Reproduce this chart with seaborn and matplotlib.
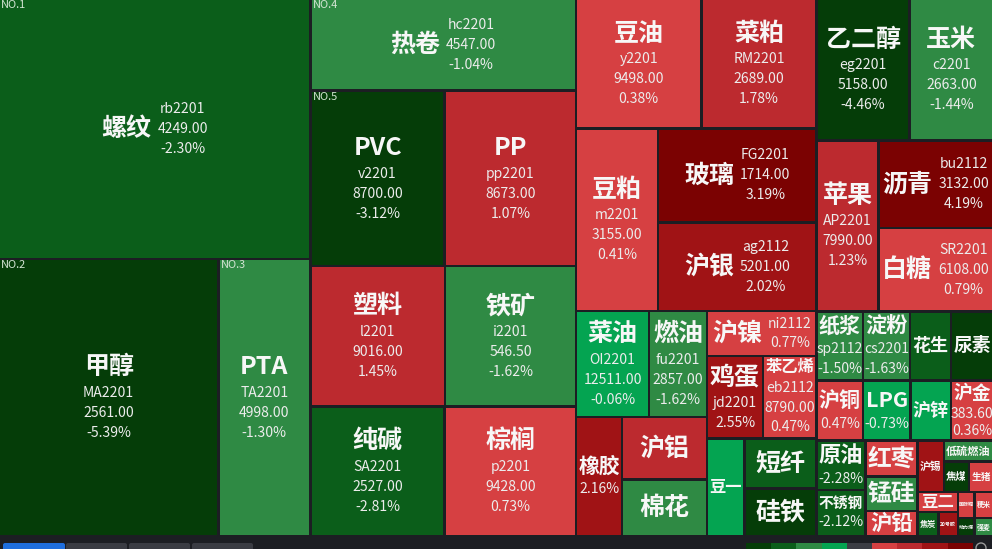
import matplotlib
matplotlib.use('Agg')
import matplotlib.pyplot as plt
from matplotlib.patches import Rectangle, FancyBboxPatch, Circle
import numpy as np
import seaborn as sns

# futures contracts
names = ['螺纹', '甲醇', 'PTA', '热卷', 'PVC', 'PP', '塑料', '铁矿', '纯碱', '棕榈',
         '豆油', '菜粕', '豆粕', '玻璃', '沪银', '菜油', '燃油', '橡胶', '沪铝', '棉花',
         '沪镍', '鸡蛋', '苯乙烯', '豆一', '短纤', '硅铁', '乙二醇', '玉米', '苹果', '沥青',
         '白糖', '纸浆', '淀粉', '花生', '尿素', '沪铜', 'LPG', '沪锌', '沪金', '原油',
         '不锈钢', '红枣', '锰硅', '沪铅', '沪锡', '低硫燃油', '焦煤', '生猪', '豆二', '焦炭',
         '20号胶', '国际铜', '粳米', '动力煤', '强麦']
codes = ['rb2201', 'MA2201', 'TA2201', 'hc2201', 'v2201', 'pp2201', 'l2201', 'i2201', 'SA2201', 'p2201',
         'y2201', 'RM2201', 'm2201', 'FG2201', 'ag2112', 'OI2201', 'fu2201', '', '', '',
         'ni2112', 'jd2201', 'eb2112', '', '', '', 'eg2201', 'c2201', 'AP2201', 'bu2112',
         'SR2201', 'sp2112', 'cs2201', '', '', '', '', '', '', '',
         '', '', '', '', '', '', '', '', '', '',
         '', '', '', '', '']
prices = ['4249.00', '2561.00', '4998.00', '4547.00', '8700.00', '8673.00', '9016.00', '546.50', '2527.00', '9428.00',
          '9498.00', '2689.00', '3155.00', '1714.00', '5201.00', '12511.00', '2857.00', '', '', '',
          '', '', '8790.00', '', '', '', '5158.00', '2663.00', '7990.00', '3132.00',
          '6108.00', '', '', '', '', '', '', '', '383.60', '',
          '', '', '', '', '', '', '', '', '', '',
          '', '', '', '', '']
changes = [-2.30, -5.39, -1.30, -1.04, -3.12, 1.07, 1.45, -1.62, -2.81, 0.73,
           0.38, 1.78, 0.41, 3.19, 2.02, -0.06, -1.62, 2.16, 1.30, -1.20,
           0.77, 2.55, 0.47, -0.50, -2.40, -3.50, -4.46, -1.44, 1.23, 4.19,
           0.79, -1.50, -1.63, -2.20, -3.30, 0.47, -0.73, -0.40, 0.36, -2.28,
           -2.12, 0.60, -1.80, 0.30, 2.30, -1.30, -4.00, 0.90, 0.50, -2.50,
           2.10, 0.60, 0.80, -3.60, -1.40]
# relative turnover (tile size)
weights = [805, 604, 254, 242, 234, 229, 188, 183, 173, 169,
           161, 148, 149, 149, 139, 77, 61, 54.5, 53, 47.6,
           49, 46, 44, 36, 36, 34, 131, 117, 105, 100,
           95, 32, 32.4, 28, 29, 27.9, 28.2, 24.3, 25.2, 24,
           22.5, 18.5, 18, 13, 13.3, 10.3, 7.5, 7.2, 8, 5,
           4.6, 4.3, 4.8, 3, 3.3]
# which detail lines fit: c = code, v = price, p = change
shown = ['cvp'] * 17 + ['p', '', '',
         'cp', 'cp', 'cvp', '', '', '', 'cvp', 'cvp', 'cvp', 'cvp',
         'cvp', 'cp', 'cp', '', '', 'p', 'p', '', 'vp', 'p',
         'p'] + [''] * 14

# nesting of the tiles
tree = [
    ['螺纹', ['甲醇', 'PTA']],
    ['热卷', ['PVC', 'PP'], ['塑料', '铁矿'], ['纯碱', '棕榈']],
    [['豆油', '菜粕'], ['豆粕', ['玻璃', '沪银']],
     [[['菜油', '燃油'], ['橡胶', ['沪铝', '棉花']]],
      ['沪镍', ['鸡蛋', '苯乙烯'], ['豆一', ['短纤', '硅铁']]]]],
    [['乙二醇', '玉米'], ['苹果', ['沥青', '白糖']],
     [['纸浆', '淀粉', '花生', '尿素'], ['沪铜', 'LPG', '沪锌', '沪金'],
      [['原油', '不锈钢'], ['红枣', '锰硅', '沪铅'],
       [['沪锡', ['低硫燃油', ['焦煤', '生猪']]],
        [['豆二', ['焦炭', '20号胶']], [['国际铜', '粳米'], ['动力煤', '强麦']]]]]]],
]

BG = '#1c1e23'
PT = 0.72  # px -> pt at 100 dpi
palette = sns.color_palette(['#053d08', '#0b5e1a', '#2f8a44', '#04a451', '#3b3d44',
                             '#d64042', '#bc2a2f', '#a01315', '#7b0202'])
idx = {n: i for i, n in enumerate(names)}
pct_labels = [f'{c:.2f}%' for c in changes]


def cell_color(c):
    if c == 0:
        return palette[4]
    if c < 0:
        return palette[3 - min(3, int(np.floor(-c)))]
    return palette[5 + min(3, int(np.floor(c)))]


def node_sum(node):
    if isinstance(node, str):
        return weights[idx[node]]
    return sum(node_sum(c) for c in node)


def split(node, x, y, w, h, rects):
    if isinstance(node, str):
        rects[node] = (x, y, w, h)
        return
    s = node_sum(node)
    for c in node:
        f = node_sum(c) / s
        if w >= h:
            split(c, x, y, w * f, h, rects)
            x += w * f
        else:
            split(c, x, y, w, h * f, rects)
            y += h * f


sns.set_theme(style='dark')
plt.rcParams['font.family'] = ['Noto Sans CJK SC', 'DejaVu Sans']

fig = plt.figure(figsize=(9.92, 5.49), dpi=100, facecolor=BG)
ax = fig.add_axes([0, 0, 1, 1])
ax.set_xlim(0, 992)
ax.set_ylim(549, 0)
ax.axis('off')
renderer = fig.canvas.get_renderer()

rects = {}
split(tree, -1, -1, 994, 537, rects)
gap = 1.3
DET = 14


def put(s, x, y, px, clip, ha='center', va='center', weight='normal', color='#ececec'):
    t = ax.text(x, y, s, fontsize=px * PT, ha=ha, va=va, fontweight=weight, color=color)
    t.set_clip_path(clip)
    return t


for name, (x, y, w, h) in rects.items():
    i = idx[name]
    cell = Rectangle((x + gap, y + gap), w - 2 * gap, h - 2 * gap,
                     facecolor=cell_color(changes[i]), edgecolor='none')
    ax.add_patch(cell)
    cw, chh = w - 2 * gap, h - 2 * gap
    cx, cy = x + w / 2, y + h / 2
    units = sum(1.0 if ord(c) > 255 else 0.66 for c in name)
    fpx = max(5, min(25, (cw - 2) / units))
    lines = [arr[i] for flag, arr in (('c', codes), ('v', prices), ('p', pct_labels))
             if flag in shown[i]]
    if not lines:
        fpx = max(5, min(fpx, chh - 1))
    if lines and cw > 1.1 * chh:
        # name on the left, details on the right
        tn = put(name, 0, cy, fpx, cell, ha='left', weight='bold', color='#f7f7f7')
        ls = min(20, (chh - 4) / len(lines))
        tds = [put(s, 0, cy + (k - (len(lines) - 1) / 2) * ls, DET, cell)
               for k, s in enumerate(lines)]
        nw = tn.get_window_extent(renderer).width
        dw = max(t.get_window_extent(renderer).width for t in tds)
        start = cx - (nw + 6 + dw) / 2
        tn.set_x(start)
        for t in tds:
            t.set_x(start + nw + 6 + dw / 2)
    else:
        nh = fpx * 1.25
        ls = min(20, (chh - nh) / len(lines)) if lines else 0
        top = cy - (nh + ls * len(lines)) / 2
        put(name, cx, top + nh / 2, fpx, cell, weight='bold', color='#f7f7f7')
        for k, s in enumerate(lines):
            put(s, cx, top + nh + ls * (k + 0.5), DET, cell)

# rank labels on the five biggest tiles
for r, i in enumerate(np.argsort(weights)[::-1][:5]):
    x, y, w, h = rects[names[i]]
    put(f'NO.{r + 1}', x + gap + 1, y + gap, 11, ax.patch, ha='left', va='top', color='#d5e6d5')

# bottom tab bar and colour legend
ax.add_patch(FancyBboxPatch((3, 543), 62, 10, boxstyle='round,pad=0,rounding_size=2',
                            facecolor='#1f6fde', edgecolor='none'))
for k in range(3):
    ax.add_patch(FancyBboxPatch((66 + k * 63, 543), 61, 10, boxstyle='round,pad=0,rounding_size=2',
                                facecolor='#3a3c43', edgecolor='none'))
for k, col in enumerate(palette):
    ax.add_patch(Rectangle((746 + k * 25.2, 543), 25.2, 10, facecolor=col, edgecolor='none'))
ax.add_patch(Circle((981, 548), 5, facecolor='none', edgecolor='#9a9a9a', lw=1))

fig.savefig('out.png', dpi=100, facecolor=BG)
